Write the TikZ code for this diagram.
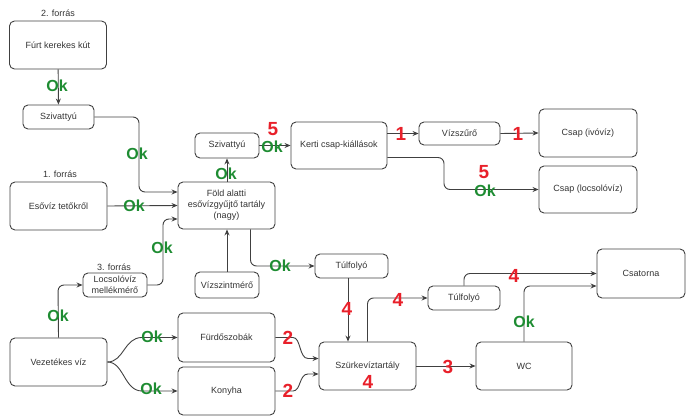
\documentclass[tikz,border=0pt]{standalone}
\usepackage{fontspec}
\setmainfont{Liberation Sans}
\usetikzlibrary{arrows.meta}
\definecolor{linec}{HTML}{404040}
\definecolor{txtc}{HTML}{333333}
\definecolor{okg}{HTML}{1E8C32}
\definecolor{numr}{HTML}{E8202A}
\tikzset{
  box/.style={draw=linec, rounded corners=5pt, line width=0.9pt, align=center,
    font=\fontsize{9}{11}\selectfont, text=txtc, inner sep=0pt},
  lbl/.style={font=\fontsize{9}{11}\selectfont, text=txtc, inner sep=0pt},
  arr/.style={draw=linec, line width=0.9pt, -{Stealth[length=6pt,width=5pt]}},
  rc/.style={rounded corners=6pt},
  ok/.style={font=\fontsize{16}{16}\selectfont\bfseries, text=okg, inner sep=0pt},
  num/.style={font=\fontsize{19}{19}\selectfont\bfseries, text=numr, inner sep=0pt}
}
\begin{document}
\begin{tikzpicture}[x=1pt,y=-1pt]
\useasboundingbox (0,0) rectangle (686,420);
% boxes
\node[box, minimum width=97pt, minimum height=48pt] (kut) at (58,45) {Fúrt kerekes kút};
\node[box, minimum width=71pt, minimum height=24pt] (sz1) at (58.5,117) {Szivattyú};
\node[box, minimum width=97pt, minimum height=48pt] (eso) at (58.5,206) {Esővíz tetőkről};
\node[box, minimum width=97pt, minimum height=47pt] (tank) at (226.5,205.5) {Föld alatti\\esővízgyűjtő tartály\\(nagy)};
\node[box, minimum width=64pt, minimum height=25pt] (sz2) at (227,145.5) {Szivattyú};
\node[box, minimum width=96pt, minimum height=47pt] (kerti) at (339,145.5) {Kerti csap-kiállások};
\node[box, minimum width=81pt, minimum height=23pt] (szuro) at (459.5,133.5) {Vízszűrő};
\node[box, minimum width=98pt, minimum height=48pt] (ivo) at (588,133) {Csap (ivóvíz)};
\node[box, minimum width=98pt, minimum height=47pt] (locs) at (588,189.5) {Csap (locsolóvíz)};
\node[box, minimum width=73pt, minimum height=24pt] (tul1) at (351.5,266) {Túlfolyó};
\node[box, minimum width=72pt, minimum height=24pt] (tul2) at (464,298) {Túlfolyó};
\node[box, minimum width=97pt, minimum height=48pt] (szurke) at (367.5,366) {Szürkevíztartály};
\node[box, minimum width=96pt, minimum height=48pt] (wc) at (524,366) {WC};
\node[box, minimum width=88pt, minimum height=49pt] (csat) at (641,273.5) {Csatorna};
\node[box, minimum width=64pt, minimum height=26pt] (vszm) at (227,285) {Vízszintmérő};
\node[box, minimum width=64pt, minimum height=24pt] (locsm) at (115,285) {Locsolóvíz\\mellékmérő};
\node[box, minimum width=97pt, minimum height=48pt] (vez) at (58.5,362) {Vezetékes víz};
\node[box, minimum width=97pt, minimum height=49pt] (furdo) at (226.5,337.5) {Fürdőszobák};
\node[box, minimum width=97pt, minimum height=48pt] (konyha) at (226.5,391) {Konyha};
% source labels
\node[lbl] (f2) at (58,13) {2. forrás};
\node[lbl] (f1) at (60,174) {1. forrás};
\node[lbl] (f3) at (114,267) {3. forrás};
% connectors
\draw[arr] (kut) -- (sz1);
\draw[arr,rc] (sz1.east) -- (139,117) -- (139,192) -- ([yshift=13.5pt]tank.west);
\draw[arr] (eso.east) -- (tank.west);
\draw[arr,rc] (locsm.east) -- (163,285) -- (163,219) -- ([yshift=-13.5pt]tank.west);
\draw[arr,rc] (vez.north) -- (58,285) -- (locsm.west);
\draw[arr] (vez.east) .. controls (124,362) and (124,337.5) .. (142,337.5) -- (furdo.west);
\draw[arr] (vez.east) .. controls (124,362) and (124,391) .. (142,391) -- (konyha.west);
\draw[arr] (vszm.north) -- (vszm.north |- tank.south);
\draw[arr] (tank.north -| sz2.south) -- (sz2.south);
\draw[arr] (sz2.east) -- (kerti.west);
\draw[arr] ([yshift=12pt]kerti.east) -- (szuro.west);
\draw[arr] (szuro.east) -- (ivo.west);
\draw[arr,rc] ([yshift=-12pt]kerti.east) -- (444,157.5) -- (444,189.5) -- (locs.west);
\draw[arr,rc] ([xshift=24pt]tank.south) -- (250.5,266) -- (tul1.west);
\draw[arr] ([xshift=-3.5pt]tul1.south) -- ([xshift=-19.5pt]szurke.north);
\draw[arr,rc] (szurke.north) -- (367.5,298) -- (tul2.west);
\draw[arr] (furdo.east) -- (293,337.5) .. controls (301,337.5) and (299,358.5) .. (308,358.5) -- ([yshift=7.5pt]szurke.west);
\draw[arr] (konyha.east) -- (293,391) .. controls (301,391) and (299,374) .. (308,374) -- ([yshift=-8pt]szurke.west);
\draw[arr] (szurke.east) -- (wc.west);
\draw[arr,rc] (tul2.north) -- (464,273.5) -- (csat.west);
\draw[arr,rc] (wc.north) -- (524,286) -- ([yshift=-12.5pt]csat.west);
% Ok labels
\node[ok] (ok1) at (57,86) {Ok};
\node[ok] (ok2) at (137,154) {Ok};
\node[ok] (ok3) at (134,206) {Ok};
\node[ok] (ok4) at (162,248) {Ok};
\node[ok] (ok5) at (58,316) {Ok};
\node[ok] (ok6) at (152,337) {Ok};
\node[ok] (ok7) at (151,389) {Ok};
\node[ok] (ok8) at (226,174) {Ok};
\node[ok] (ok9) at (272,147) {Ok};
\node[ok] (ok10) at (485,190.5) {Ok};
\node[ok] (ok11) at (280,266) {Ok};
\node[ok] (ok12) at (524,322) {Ok};
% red numbers
\node[num] (n1) at (273,129) {5};
\node[num] (n2) at (401,134) {1};
\node[num] (n3) at (518,134) {1};
\node[num] (n4) at (484,172) {5};
\node[num] (n5) at (347,309) {4};
\node[num] (n6) at (398,300) {4};
\node[num] (n7) at (288,338) {2};
\node[num] (n8) at (288,391) {2};
\node[num] (n9) at (448,367) {3};
\node[num] (n10) at (368,382) {4};
\node[num] (n11) at (514,276) {4};
\end{tikzpicture}
\end{document}
